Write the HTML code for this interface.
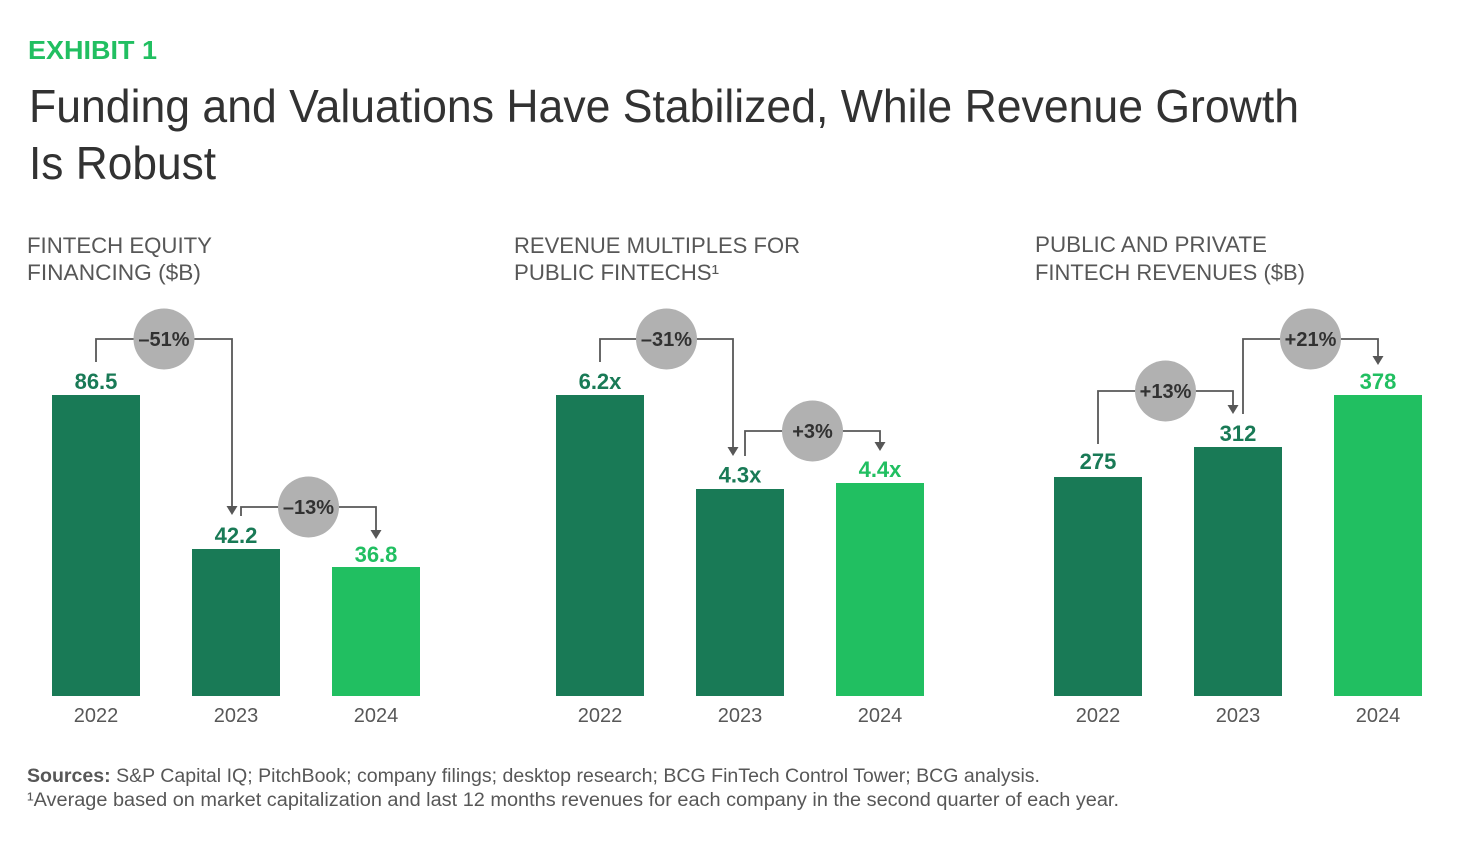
<!DOCTYPE html>
<html lang="en">
<head>
<meta charset="utf-8">
<title>Funding and Valuations Have Stabilized, While Revenue Growth Is Robust</title>
<style>
  html, body { margin: 0; padding: 0; background: #fff; }
  svg { display: block; font-family: "Liberation Sans", sans-serif; }
</style>
</head>
<body>
<svg id="exhibit" xmlns="http://www.w3.org/2000/svg" width="1462" height="860" viewBox="0 0 1462 860">
  <rect x="0" y="0" width="1462" height="860" fill="#ffffff"/>
  <text x="28" y="59" font-size="26" font-weight="700" fill="#21bf61" textLength="129" lengthAdjust="spacingAndGlyphs">EXHIBIT 1</text>
  <text x="29" y="122" font-size="46" fill="#323232" textLength="1270" lengthAdjust="spacingAndGlyphs">Funding and Valuations Have Stabilized, While Revenue Growth</text>
  <text x="29" y="179" font-size="46" fill="#323232" textLength="187" lengthAdjust="spacingAndGlyphs">Is Robust</text>

  <g font-size="22" fill="#575757">
    <text x="27" y="253" textLength="185" lengthAdjust="spacingAndGlyphs">FINTECH EQUITY</text>
    <text x="27" y="280" textLength="174" lengthAdjust="spacingAndGlyphs">FINANCING ($B)</text>
    <text x="514" y="253" textLength="286" lengthAdjust="spacingAndGlyphs">REVENUE MULTIPLES FOR</text>
    <text x="514" y="280" textLength="205" lengthAdjust="spacingAndGlyphs">PUBLIC FINTECHS¹</text>
    <text x="1035" y="252" textLength="232" lengthAdjust="spacingAndGlyphs">PUBLIC AND PRIVATE</text>
    <text x="1035" y="280" textLength="270" lengthAdjust="spacingAndGlyphs">FINTECH REVENUES ($B)</text>
  </g>

  <g id="plots"></g>

  <text x="27" y="782" font-size="19" fill="#575757" textLength="1013" lengthAdjust="spacingAndGlyphs"><tspan font-weight="700">Sources:</tspan> S&amp;P Capital IQ; PitchBook; company filings; desktop research; BCG FinTech Control Tower; BCG analysis.</text>
  <text x="27" y="806" font-size="19" fill="#575757" textLength="1092" lengthAdjust="spacingAndGlyphs">¹Average based on market capitalization and last 12 months revenues for each company in the second quarter of each year.</text>
</svg>

<script>
// ---- Data ----
const categories = ['2022', '2023', '2024'];

const equityValues = [86.5, 42.2, 36.8];
const equityLabels = ['86.5', '42.2', '36.8'];
const equityChanges = ['\u201351%', '\u201313%'];

const multipleValues = [6.2, 4.26, 4.38];
const multipleLabels = ['6.2x', '4.3x', '4.4x'];
const multipleChanges = ['\u201331%', '+3%'];

const revenueValues = [275, 312, 378];
const revenueLabels = ['275', '312', '378'];
const revenueChanges = ['+13%', '+21%'];

// ---- Layout ----
const NS = 'http://www.w3.org/2000/svg';
const plots = document.getElementById('plots');
const BASELINE = 696;
const MAX_BAR_HEIGHT = 301;
const BAR_WIDTH = 88;
const BAR_STEP = 140;
const DARK = '#197a56';
const BRIGHT = '#21bf61';
const LINE = '#575757';

function svgEl(tag, attrs, parent) {
  const el = document.createElementNS(NS, tag);
  Object.keys(attrs).forEach(function (k) { el.setAttribute(k, attrs[k]); });
  parent.appendChild(el);
  return el;
}

function drawPanel(opts) {
  const values = opts.values;
  const max = Math.max.apply(null, values);
  const group = svgEl('g', {}, plots);
  
  

  const xCenter = function (i) { return opts.firstCenter + i * BAR_STEP; };
  const yTop = function (v) { return Math.round(BASELINE - (v / max) * MAX_BAR_HEIGHT - 0.46); };

  values.forEach(function (v, i) {
    const color = i === values.length - 1 ? BRIGHT : DARK;
    const top = yTop(v);

    const bar = svgEl('rect', { x: xCenter(i) - BAR_WIDTH / 2, y: top, width: BAR_WIDTH, height: BASELINE - top, fill: color }, group);
    
    

    const label = svgEl('text', { x: xCenter(i), y: top - opts.labelGaps[i], 'text-anchor': 'middle', 'font-size': 22, 'font-weight': 700, fill: color }, group);
    
    
    label.textContent = opts.labels[i];

    const tick = svgEl('text', { x: xCenter(i), y: 722, 'text-anchor': 'middle', 'font-size': 20, fill: LINE }, group);
    
    
    tick.textContent = categories[i];
  });

  opts.connectors.forEach(function (c, k) {
    const fromTop = yTop(values[c.from]);
    const toTop = yTop(values[c.to]);
    const x1 = xCenter(c.from) + c.fromShift;
    const x2 = xCenter(c.to) + c.toShift;
    const y1 = fromTop - 33;
    const tip = toTop - c.tipGap;
    const level = Math.min(fromTop, toTop) - c.rise;

    const path = svgEl('path', { d: 'M' + x1 + ' ' + y1 + 'V' + level + 'H' + x2 + 'V' + (tip - 8), fill: 'none', stroke: LINE, 'stroke-width': 1.8 }, group);
    
    

    const head = svgEl('polygon', { points: (x2 - 5.5) + ',' + (tip - 9) + ' ' + (x2 + 5.5) + ',' + (tip - 9) + ' ' + x2 + ',' + tip, fill: LINE }, group);
    
    

    const cx = (x1 + x2) / 2;
    const badge = svgEl('circle', { cx: cx, cy: level, r: 30.5, fill: '#b1b1b1' }, group);
    
    

    const text = svgEl('text', { x: cx, y: level + 7, 'text-anchor': 'middle', 'font-size': 20, 'font-weight': 700, fill: '#323232' }, group);
    
    
    text.textContent = opts.changes[k];
  });
}

drawPanel({
  name: 'equity-financing', firstCenter: 96, values: equityValues, labels: equityLabels, changes: equityChanges,
  labelGaps: [6, 6, 5],
  connectors: [
    { from: 0, to: 1, fromShift: 0, toShift: -4, tipGap: 34, rise: 56 },
    { from: 1, to: 2, fromShift: 5, toShift: 0, tipGap: 28, rise: 42 }
  ]
});
drawPanel({
  name: 'revenue-multiples', firstCenter: 600, values: multipleValues, labels: multipleLabels, changes: multipleChanges,
  labelGaps: [6, 6.5, 6],
  connectors: [
    { from: 0, to: 1, fromShift: 0, toShift: -7, tipGap: 33, rise: 56 },
    { from: 1, to: 2, fromShift: 5, toShift: 0, tipGap: 32, rise: 52 }
  ]
});
drawPanel({
  name: 'fintech-revenues', firstCenter: 1098, values: revenueValues, labels: revenueLabels, changes: revenueChanges,
  labelGaps: [8, 6, 6],
  connectors: [
    { from: 0, to: 1, fromShift: 0, toShift: -5, tipGap: 33, rise: 56 },
    { from: 1, to: 2, fromShift: 5, toShift: 0, tipGap: 30, rise: 56 }
  ]
});
</script>
</body>
</html>
